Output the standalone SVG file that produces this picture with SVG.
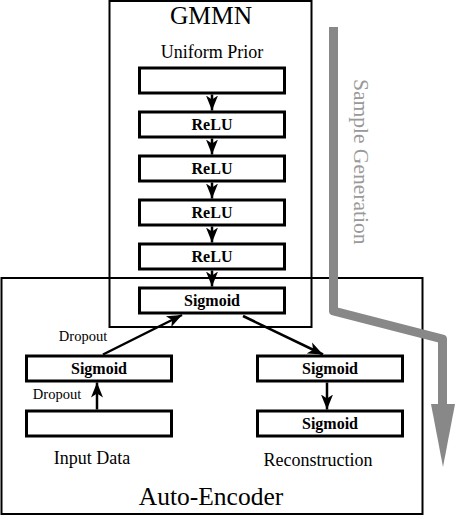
<svg xmlns="http://www.w3.org/2000/svg" width="456" height="516" viewBox="0 0 456 516">
<style>
.frame{fill:none;stroke:#000;stroke-width:2}
.box{fill:#fff;stroke:#000;stroke-width:3}
.lbl{font-family:"Liberation Serif",serif;font-weight:bold;font-size:16px;text-anchor:middle;fill:#000}
.cap{font-family:"Liberation Serif",serif;text-anchor:middle;fill:#000}
.edge{fill:none;stroke:#000;stroke-width:2.5}
</style>
<defs>
<marker id="ah" markerUnits="userSpaceOnUse" markerWidth="18" markerHeight="14" refX="15" refY="7" orient="auto">
<path d="M0,1 L15,7 L0,13 L4,7 Z" fill="#000"/>
</marker>
</defs>
<rect x="0" y="0" width="456" height="516" fill="#fff"/>
<g id="gmmn">
<rect class="frame" x="109.5" y="1" width="202" height="326"/>
<text class="cap" x="211" y="24" font-size="25.5">GMMN</text>
<text class="cap" x="212" y="58" font-size="18">Uniform Prior</text>
</g>
<g id="autoencoder">
<rect class="frame" x="1.5" y="278" width="421" height="236"/>
<text class="cap" x="211" y="505" font-size="25.5">Auto-Encoder</text>
<text class="cap" x="92" y="464" font-size="18">Input Data</text>
<text class="cap" x="318" y="466" font-size="18">Reconstruction</text>
</g>
<g id="prior"><rect class="box" x="139.5" y="68" width="145" height="25"/></g>
<g id="relu1"><rect class="box" x="139.5" y="112" width="145" height="25"/><text class="lbl" x="212" y="130">ReLU</text></g>
<g id="relu2"><rect class="box" x="139.5" y="156" width="145" height="25"/><text class="lbl" x="212" y="174">ReLU</text></g>
<g id="relu3"><rect class="box" x="139.5" y="200" width="145" height="25"/><text class="lbl" x="212" y="218">ReLU</text></g>
<g id="relu4"><rect class="box" x="139.5" y="244" width="145" height="25"/><text class="lbl" x="212" y="262">ReLU</text></g>
<g id="code"><rect class="box" x="139.5" y="288" width="145" height="25"/><text class="lbl" x="212" y="306">Sigmoid</text></g>
<g id="enc"><rect class="box" x="26.5" y="356" width="145" height="25"/><text class="lbl" x="99" y="374">Sigmoid</text></g>
<g id="input"><rect class="box" x="26.5" y="411" width="145" height="25"/></g>
<g id="dec1"><rect class="box" x="257.5" y="356" width="145" height="25"/><text class="lbl" x="330" y="374">Sigmoid</text></g>
<g id="dec2"><rect class="box" x="257.5" y="411" width="145" height="25"/><text class="lbl" x="330" y="429">Sigmoid</text></g>
<g id="connectors">
<line class="edge" x1="212" y1="94.5" x2="212" y2="110.5" marker-end="url(#ah)"/>
<line class="edge" x1="212" y1="138.5" x2="212" y2="154.5" marker-end="url(#ah)"/>
<line class="edge" x1="212" y1="182.5" x2="212" y2="198.5" marker-end="url(#ah)"/>
<line class="edge" x1="212" y1="226.5" x2="212" y2="242.5" marker-end="url(#ah)"/>
<line class="edge" x1="212" y1="270.5" x2="212" y2="286.5" marker-end="url(#ah)"/>
<line class="edge" x1="97" y1="409.5" x2="97" y2="382.5" marker-end="url(#ah)"/>
<line class="edge" x1="103" y1="354.5" x2="182" y2="315" marker-end="url(#ah)"/>
<line class="edge" x1="243" y1="316" x2="323" y2="354.5" marker-end="url(#ah)"/>
<line class="edge" x1="327" y1="382.5" x2="327" y2="409.5" marker-end="url(#ah)"/>
<text class="cap" x="83" y="341" font-size="14.5">Dropout</text>
<text class="cap" x="57" y="399" font-size="14.5">Dropout</text>
</g>
<g id="sample-generation">
<polyline points="333.5,27 333.5,311 442.5,339 442.5,408" fill="none" stroke="#888" stroke-width="9" stroke-linejoin="round"/>
<polygon points="431,404 455,404 443,467" fill="#888"/>
<text transform="translate(354,79) rotate(90)" font-family="Liberation Serif, serif" font-size="21.5" fill="#999">Sample Generation</text>
</g>
</svg>
